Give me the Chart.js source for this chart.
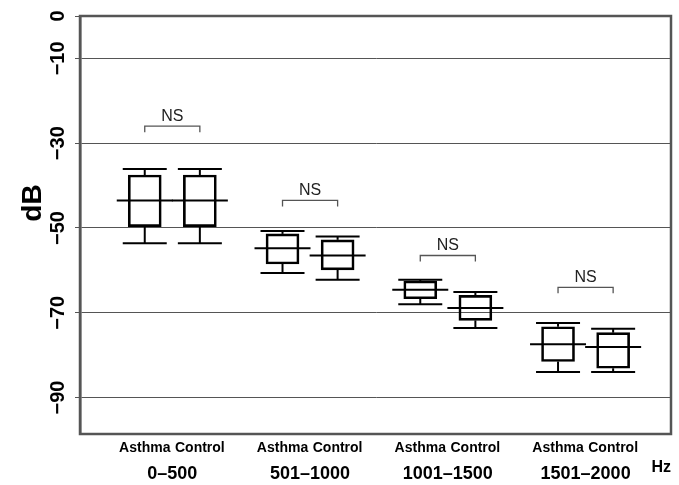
<!DOCTYPE html>
<html>
<head>
<meta charset="utf-8">
<script src="https://cdn.jsdelivr.net/npm/chart.js@4.4.1/dist/chart.umd.min.js"></script>
<style>
    html, body { margin: 0; padding: 0; background: #fff; }
    #wrap { width: 679px; height: 485px; }
</style>
</head>
<body>
<div id="wrap"><canvas id="chart" width="679" height="485"></canvas></div>
<script>
// Values (dB)
const groups = ['0–500', '501–1000', '1001–1500', '1501–2000'];
const subjects = ['Asthma', 'Control'];

const asthmaMin    = [-53.6, -60.6, -68.0, -84.0];
const asthmaQ1     = [-49.7, -58.5, -66.7, -81.5];
const asthmaMedian = [-43.5, -54.8, -64.6, -77.4];
const asthmaQ3     = [-37.5, -51.4, -62.5, -73.3];
const asthmaMax    = [-36.1, -50.7, -62.2, -72.4];

const controlMin    = [-53.6, -62.2, -73.6, -84.0];
const controlQ1     = [-49.7, -59.9, -71.8, -83.1];
const controlMedian = [-43.5, -56.5, -68.9, -78.1];
const controlQ3     = [-37.5, -52.8, -65.9, -74.7];
const controlMax    = [-36.1, -52.0, -65.1, -73.8];

// level of the "NS" bracket above each pair
const nsLevel = [-26.0, -43.5, -56.5, -64.0];
const yTicks = [0, -10, -30, -50, -70, -90];

const FONT = "'Liberation Sans', Arial, sans-serif";
const SPREAD = 0.2; // Asthma / Control offset from group centre

function boxes(q1, q3, side) {
    return groups.map((g, i) => ({ x: i + 1 + side * SPREAD, y: [q1[i], q3[i]] }));
}

const stats = [
    { min: asthmaMin, med: asthmaMedian, max: asthmaMax },
    { min: controlMin, med: controlMedian, max: controlMax }
];

function line(ctx, x1, y1, x2, y2) {
    ctx.beginPath();
    ctx.moveTo(x1, y1);
    ctx.lineTo(x2, y2);
    ctx.stroke();
}

const boxPlugin = {
    id: 'boxExtras',
    afterDatasetsDraw(chart) {
        const { ctx, scales: { y } } = chart;
        ctx.save();
        ctx.strokeStyle = '#000';
        ctx.lineWidth = 2;
        stats.forEach((s, d) => {
            const meta = chart.getDatasetMeta(d);
            const ds = chart.data.datasets[d].data;
            meta.data.forEach((bar, i) => {
                const x = bar.x;
                const lo = y.getPixelForValue(ds[i].y[0]);
                const hi = y.getPixelForValue(ds[i].y[1]);
                const pMin = y.getPixelForValue(s.min[i]);
                const pMax = y.getPixelForValue(s.max[i]);
                const pMed = y.getPixelForValue(s.med[i]);
                line(ctx, x, pMax, x, hi);
                line(ctx, x, lo, x, pMin);
                line(ctx, x - 22, pMax, x + 22, pMax);
                line(ctx, x - 22, pMin, x + 22, pMin);
                line(ctx, x - 28, pMed, x + 28, pMed);
            });
        });

        // NS brackets
        const m0 = chart.getDatasetMeta(0), m1 = chart.getDatasetMeta(1);
        ctx.strokeStyle = '#555';
        ctx.lineWidth = 1.3;
        ctx.fillStyle = '#222';
        ctx.font = '16px ' + FONT;
        ctx.textAlign = 'center';
        ctx.textBaseline = 'middle';
        nsLevel.forEach((v, i) => {
            const xa = m0.data[i].x, xc = m1.data[i].x;
            const yb = y.getPixelForValue(v);
            ctx.beginPath();
            ctx.moveTo(xa, yb + 6);
            ctx.lineTo(xa, yb);
            ctx.lineTo(xc, yb);
            ctx.lineTo(xc, yb + 6);
            ctx.stroke();
            ctx.fillText('NS', (xa + xc) / 2, yb - 10);
        });
        ctx.restore();
    },
    afterDraw(chart) {
        const { ctx, chartArea: a } = chart;
        ctx.save();
        ctx.strokeStyle = '#555';
        ctx.lineWidth = 2.5;
        ctx.strokeRect(a.left, a.top, a.right - a.left, a.bottom - a.top);

        // axis title
        ctx.translate(33, (a.top + a.bottom) / 2 - 22);
        ctx.rotate(-Math.PI / 2);
        ctx.fillStyle = '#000';
        ctx.font = 'bold 28px ' + FONT;
        ctx.textAlign = 'center';
        ctx.textBaseline = 'middle';
        ctx.fillText('dB', 0, 0);
        ctx.restore();
    }
};

const boxStyle = {
    backgroundColor: 'rgba(0,0,0,0)',
    borderColor: '#000',
    borderWidth: 2,
    borderSkipped: false,
    barThickness: 33,
    grouped: false
};

new Chart(document.getElementById('chart'), {
    type: 'bar',
    data: {
        datasets: [
            Object.assign({ label: subjects[0], data: boxes(asthmaQ1, asthmaQ3, -1) }, boxStyle),
            Object.assign({ label: subjects[1], data: boxes(controlQ1, controlQ3, 1) }, boxStyle)
        ]
    },
    options: {
        responsive: false,
        devicePixelRatio: 1,
        animation: false,
        layout: { padding: { left: 0, right: 8, top: 16, bottom: 0 } },
        plugins: { legend: { display: false }, tooltip: { enabled: false } },
        scales: {
            x: {
                type: 'linear',
                position: 'bottom',
                min: 0.33,
                max: 4.62,
                offset: false,
                weight: 0,
                grid: { display: false, drawTicks: false },
                border: { display: false },
                afterBuildTicks: (s) => {
                    s.ticks = groups.flatMap((g, i) => [{ value: i + 1 - SPREAD }, { value: i + 1 + SPREAD }]);
                },
                afterFit: (s) => { s.height = 26; },
                ticks: {
                    autoSkip: false,
                    maxRotation: 0,
                    padding: 6,
                    color: '#000',
                    font: { family: FONT, size: 14, weight: 'bold' },
                    callback: (v, idx) => subjects[idx % 2]
                }
            },
            x2: {
                type: 'linear',
                position: 'bottom',
                min: 0.33,
                max: 4.62,
                offset: false,
                weight: 1,
                grid: { display: false, drawTicks: false },
                border: { display: false },
                afterBuildTicks: (s) => {
                    s.ticks = groups.map((g, i) => ({ value: i + 1 }));
                },
                afterFit: (s) => { s.height = 25; },
                ticks: {
                    autoSkip: false,
                    maxRotation: 0,
                    padding: 3,
                    color: '#000',
                    font: { family: FONT, size: 18, weight: 'bold' },
                    callback: (v, idx) => groups[idx]
                },
                title: {
                    display: true,
                    text: 'Hz',
                    align: 'end',
                    color: '#000',
                    padding: { top: 0, bottom: 8 },
                    font: { family: FONT, size: 16, weight: 'bold' }
                }
            },
            y: {
                type: 'linear',
                position: 'left',
                min: -98.6,
                max: 0,
                afterBuildTicks: (s) => {
                    s.ticks = yTicks.map(v => ({ value: v }));
                },
                afterFit: (s) => { s.width = 80; },
                grid: { color: '#555', lineWidth: 1, tickLength: 5, tickColor: '#555' },
                border: { display: true, color: '#555', width: 2.5 },
                ticks: {
                    minRotation: 90,
                    maxRotation: 90,
                    crossAlign: 'center',
                    padding: 0,
                    color: '#000',
                    font: { family: FONT, size: 20, weight: 'bold' },
                    callback: (v) => String(v).replace('-', '−')
                }
            }
        }
    },
    plugins: [boxPlugin]
});
</script>
</body>
</html>
